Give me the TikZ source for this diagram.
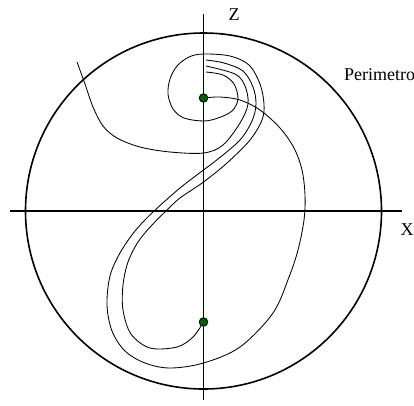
\documentclass[tikz,border=0pt]{standalone}
\usepackage{fontspec}
\setmainfont{Liberation Serif}
\definecolor{dotgreen}{RGB}{0,100,0}
\tikzset{
  axisline/.style={line width=1.4pt, black},
  rim/.style={line width=1.6pt, black},
  orbit/.style={line width=0.85pt, black, smooth, tension=0.55},
  fixpt/.style={circle, draw=black, line width=0.9pt, fill=dotgreen, minimum size=8.5pt, inner sep=0pt},
  lab/.style={font=\fontsize{18}{20}\selectfont, inner sep=0pt}
}
\begin{document}
\begin{tikzpicture}[x=1pt,y=-1pt]
\useasboundingbox (0,0) rectangle (414,405);
% axes
\coordinate (xl) at (10,211);
\coordinate (xr) at (402,211);
\coordinate (zt) at (203.5,14);
\coordinate (zb) at (203.5,400);
\coordinate (c) at (203.5,211);
\draw[axisline] (xl) -- (xr);
\draw[axisline] (zb) -- (zt);
% perimeter
\draw[rim] (c) circle[radius=178];
% orbit from lower fixed point
\draw[orbit] plot coordinates {
  (203.5,322) (193,337) (177,347) (150,348) (131,334) (123,310) (123,285)
  (128,262) (138,242) (152,225) (167,210) (180,198) (203.5,182) (227,163)
  (250,140) (262,120) (264,104) (260,84) (249,65) (230,56) (203.5,54)
  (189,57) (177,66) (170,79) (168,94) (173,109) (184,118) (203.5,121)
  (218,118) (232,111) (238,99) (234,84) (223,75) (206,72)};
% orbit from upper fixed point
\draw[orbit] plot coordinates {
  (203.5,98) (220,97) (240,100) (260,110) (280,128) (294,148) (302,170)
  (305,195) (304,220) (298,250) (289,277) (273,313) (240,347) (203.5,363)
  (170,368) (145,363) (125,351) (112,331) (107,305) (110,276) (120,253)
  (135,231) (153,212) (180,188) (203.5,170) (218,159) (240,140) (252,121)
  (256,104) (253,87) (243,71) (224,63) (206,60)};
% free orbit
\draw[orbit] plot coordinates {
  (77,62) (85,84) (93,107) (103,126) (117,138) (140,147) (170,152)
  (203.5,153) (223,145) (240,123) (248,104) (245,86) (235,74) (206,66)};
% fixed points
\node[fixpt] (p1) at (203.5,98) {};
\node[fixpt] (p2) at (203.5,322) {};
% labels
\node[lab, anchor=base] (zlab) at (234,20) {Z};
\node[lab, anchor=base] (xlab) at (407,235) {X};
\node[lab, anchor=base west] (plab) at (344,80) {Perimetro};
\end{tikzpicture}
\end{document}
